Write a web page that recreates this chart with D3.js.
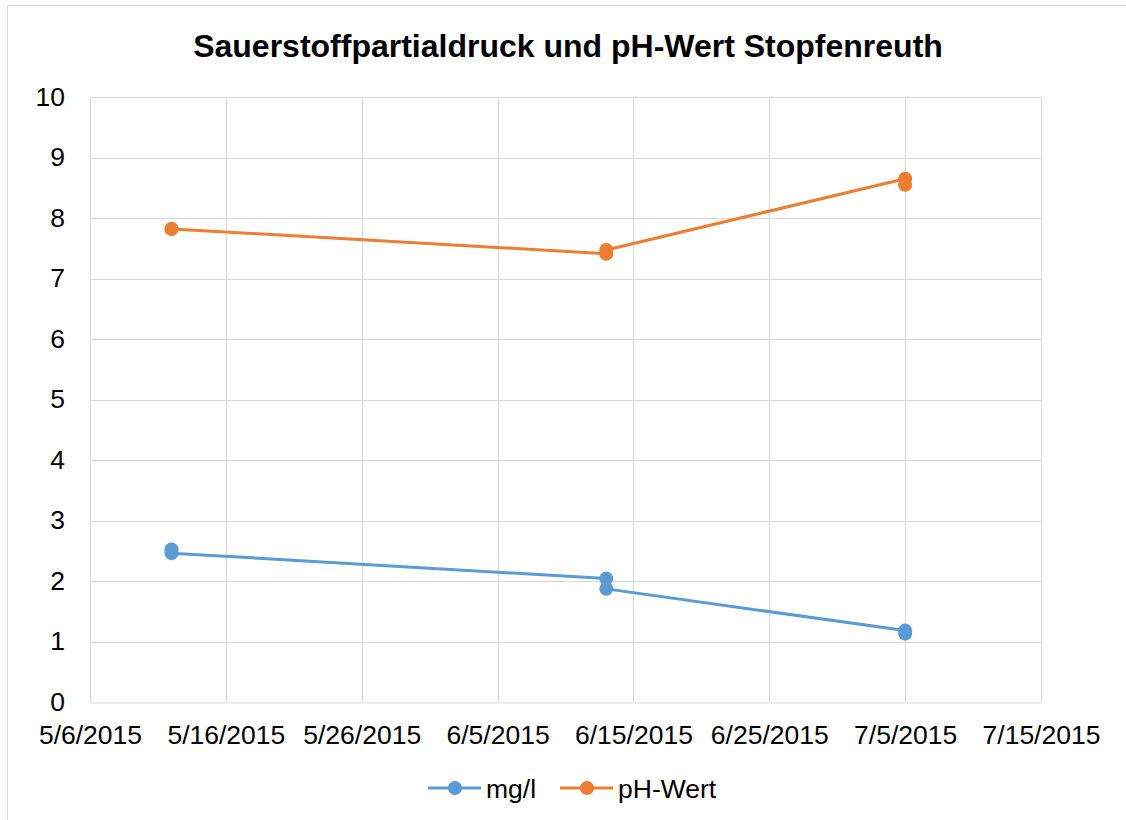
<!DOCTYPE html>
<html>
<head>
<meta charset="utf-8">
<script src="https://cdn.jsdelivr.net/npm/d3@7"></script>
<style>
  body { margin: 0; background: #fff; }
  svg { display: block; }
</style>
</head>
<body>
<svg id="chart" width="1126" height="820"></svg>
<script>
// ========= Data ========= //
const chartTitle = 'Sauerstoffpartialdruck und pH-Wert Stopfenreuth';
const dates = ['2015-05-12', '2015-05-12', '2015-06-13', '2015-06-13', '2015-07-05', '2015-07-05'];
const mgValues = [2.52, 2.46, 2.04, 1.87, 1.18, 1.13];
const phValues = [7.82, 7.82, 7.41, 7.47, 8.65, 8.55];
const seriesNames = ['mg/l', 'pH-Wert'];
const seriesColors = ['#5b9bd5', '#ed7d31'];
const yTicks = [0, 1, 2, 3, 4, 5, 6, 7, 8, 9, 10];
const xTickDates = ['2015-05-06', '2015-05-16', '2015-05-26', '2015-06-05', '2015-06-15', '2015-06-25', '2015-07-05', '2015-07-15'];

const parse = d3.utcParse('%Y-%m-%d');
const series = [mgValues, phValues].map((vals, i) => ({
  name: seriesNames[i],
  color: seriesColors[i],
  points: vals.map((v, j) => ({ date: parse(dates[j]), value: v }))
}));

// ========= Setup ========= //
const svg = d3.select('#chart');
const font = 'Liberation Sans, Arial, sans-serif';
const labelSize = '26.5px';
const plot = { left: 90, right: 1041, top: 97, bottom: 702 };

const x = d3.scaleUtc()
  .domain([parse(xTickDates[0]), parse(xTickDates[xTickDates.length - 1])])
  .range([plot.left, plot.right]);
const y = d3.scaleLinear()
  .domain([0, 10])
  .range([plot.bottom, plot.top]);

// chart frame (cropped on right and bottom like the original)
svg.append('rect')
  .attr('x', 7.5).attr('y', 5.5)
  .attr('width', 1200).attr('height', 900)
  .attr('fill', '#fff')
  .attr('stroke', '#d9d9d9')
  .attr('stroke-width', 1);

// ========= Title ========= //
svg.append('text')
  .attr('x', 568).attr('y', 57)
  .attr('text-anchor', 'middle')
  .attr('font-family', font)
  .attr('font-size', '32px')
  .attr('font-weight', 'bold')
  .attr('fill', '#000')
  .text(chartTitle);

// ========= Gridlines ========= //
svg.append('g')
  .selectAll('line')
  .data(yTicks.slice(1))
  .join('line')
    .attr('x1', plot.left).attr('x2', plot.right)
    .attr('y1', d => Math.round(y(d)) + 0.5)
    .attr('y2', d => Math.round(y(d)) + 0.5)
    .attr('stroke', '#d9d9d9');

svg.append('g')
  .selectAll('line')
  .data(xTickDates.slice(1))
  .join('line')
    .attr('x1', d => Math.round(x(parse(d))) + 0.5)
    .attr('x2', d => Math.round(x(parse(d))) + 0.5)
    .attr('y1', plot.top).attr('y2', plot.bottom)
    .attr('stroke', '#d9d9d9');

// ========= Axes ========= //
const yAxis = svg.append('g')
  .attr('transform', `translate(${plot.left},0)`)
  .call(d3.axisLeft(y).tickValues(yTicks).tickSize(0).tickPadding(25));
yAxis.select('.domain').attr('stroke', '#d9d9d9');
yAxis.selectAll('text')
  .attr('font-family', font).attr('font-size', labelSize).attr('fill', '#000');

const xAxis = svg.append('g')
  .attr('transform', `translate(0,${plot.bottom + 0.5})`)
  .call(d3.axisBottom(x)
    .tickValues(xTickDates.map(parse))
    .tickFormat(d3.utcFormat('%-m/%-d/%Y'))
    .tickSize(0).tickPadding(23));
xAxis.select('.domain').attr('stroke', '#d9d9d9');
xAxis.selectAll('text')
  .attr('font-family', font).attr('font-size', labelSize).attr('fill', '#000');

// ========= Series ========= //
const line = d3.line()
  .x(d => x(d.date))
  .y(d => y(d.value));

const seriesG = svg.append('g')
  .selectAll('g')
  .data(series)
  .join('g');

seriesG.append('path')
  .attr('d', d => line(d.points))
  .attr('fill', 'none')
  .attr('stroke', d => d.color)
  .attr('stroke-width', 3)
  .attr('stroke-linejoin', 'round')
  .attr('stroke-linecap', 'round');

seriesG.selectAll('circle')
  .data(d => d.points.map(p => ({ ...p, color: d.color })))
  .join('circle')
    .attr('cx', d => x(d.date))
    .attr('cy', d => y(d.value))
    .attr('r', 7)
    .attr('fill', d => d.color);

// ========= Legend ========= //
const legendX = [428, 560];
const legend = svg.append('g')
  .selectAll('g')
  .data(series)
  .join('g')
    .attr('transform', (d, i) => `translate(${legendX[i]},788)`);

legend.append('line')
  .attr('x1', 0).attr('x2', 53)
  .attr('stroke', d => d.color)
  .attr('stroke-width', 3);
legend.append('circle')
  .attr('cx', 27).attr('r', 7)
  .attr('fill', d => d.color);
legend.append('text')
  .attr('x', 58).attr('y', 9.5)
  .attr('font-family', font)
  .attr('font-size', labelSize)
  .attr('fill', '#000')
  .text(d => d.name);
</script>
</body>
</html>
